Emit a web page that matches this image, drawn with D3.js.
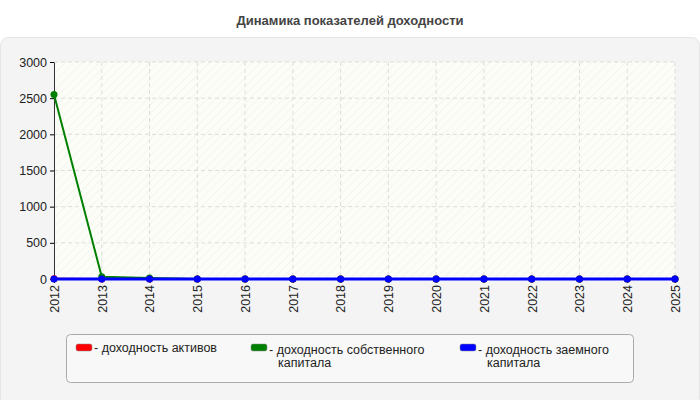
<!DOCTYPE html>
<html><head><meta charset="utf-8">
<script src="https://cdn.jsdelivr.net/npm/d3@7"></script>
<style>body{margin:0;background:#fff;font-family:Arial,"Liberation Sans",sans-serif}</style>
</head><body><svg id="c" width="700" height="400"></svg>
<script>
const years = ["2012","2013","2014","2015","2016","2017","2018","2019","2020","2021","2022","2023","2024","2025"];
const roa = [5,0,0,0,0,0,0,0,0,0,0,0,0,0];
const roe = [2550,30,15,0,0,0,0,0,0,0,0,0,0,0];
const rod = [0,0,0,0,0,0,0,0,0,0,0,0,0,0];
const yTicks = [0,500,1000,1500,2000,2500,3000];
const seriesNames = ["- доходность активов","- доходность собственного капитала","- доходность заемного капитала"];
const colors = ["#ff0000","#008000","#0000ff"];
const FF = "Arial,'Liberation Sans',sans-serif";

const svg = d3.select("#c");
const defs = svg.append("defs");
const pat = defs.append("pattern").attr("id","h").attr("width",6).attr("height",6)
  .attr("patternUnits","userSpaceOnUse").attr("patternTransform","rotate(45)");
pat.append("rect").attr("width",6).attr("height",6).attr("fill","#fdfdf8");
pat.append("line").attr("x1",0).attr("y1",0).attr("x2",0).attr("y2",6).attr("stroke","#f3f3ee").attr("stroke-width",1.5);

svg.append("text").attr("x",350).attr("y",25).attr("text-anchor","middle").attr("font-family",FF)
  .attr("font-size",13).attr("font-weight","bold").attr("fill","#444").text("Динамика показателей доходности");
svg.append("rect").attr("x",0.5).attr("y",37.5).attr("width",699).attr("height",370).attr("rx",8)
  .attr("fill","#f4f4f4").attr("stroke","#e4e4e4");

const x = d3.scalePoint().domain(years).range([54,675]);
const y = d3.scaleLinear().domain([0,3000]).range([279,62]);

svg.append("rect").attr("x",54).attr("y",62).attr("width",621).attr("height",217).attr("fill","url(#h)");
const g = svg.append("g");
yTicks.slice(1).forEach(t=>g.append("line").attr("x1",54).attr("x2",675).attr("y1",y(t)).attr("y2",y(t))
  .attr("stroke","#ddd").attr("stroke-dasharray","4,3"));
years.slice(1).forEach(t=>g.append("line").attr("x1",x(t)).attr("x2",x(t)).attr("y1",62).attr("y2",279)
  .attr("stroke","#ddd").attr("stroke-dasharray","4,3"));

const ya = svg.append("g").attr("transform","translate(54,0)").call(d3.axisLeft(y).tickValues(yTicks).tickFormat(d3.format("d")).tickSize(4).tickSizeOuter(0));
ya.selectAll("text").attr("font-size",12.5).attr("fill","#222").attr("font-family",FF);
ya.select(".domain").attr("stroke","#333");
const xa = svg.append("g").attr("transform","translate(0,279)").call(d3.axisBottom(x).tickSize(4).tickSizeOuter(0));
xa.selectAll("text").attr("font-size",12.5).attr("fill","#222").attr("font-family",FF)
  .attr("transform","rotate(-90)").attr("text-anchor","end").attr("x",-6).attr("y",0).attr("dy","0.35em");
xa.select(".domain").attr("stroke","#333");

const line = d3.line().x((d,i)=>x(years[i])).y(d=>y(d));
[roa,roe,rod].forEach((s,k)=>{
  svg.append("path").attr("d",line(s)).attr("fill","none").attr("stroke",colors[k]).attr("stroke-width",k==2?3:2);
  svg.selectAll(null).data(s).enter().append("circle").attr("cx",(d,i)=>x(years[i])).attr("cy",d=>y(d))
    .attr("r",3.5).attr("fill",colors[k]);
});

svg.append("rect").attr("x",66.5).attr("y",334.5).attr("width",567).attr("height",48).attr("rx",4)
  .attr("fill","#f8f8f8").attr("stroke","#aaa");
const lx=[76,251,460];
seriesNames.forEach((n,k)=>{
  svg.append("rect").attr("x",lx[k]).attr("y",344).attr("width",16).attr("height",7).attr("rx",2).attr("fill",colors[k]).attr("stroke","#888").attr("stroke-width",0.5);
  const words = k==0?[n]:[n.replace(" капитала",""),"капитала"];
  words.forEach((w,j)=>svg.append("text").attr("x",j==0?lx[k]+18:lx[k]+27).attr("y",(k==0?352:354)+j*13)
    .attr("font-family",FF).attr("font-size",12.5).attr("fill","#222").text(w));
});
</script></body></html>
